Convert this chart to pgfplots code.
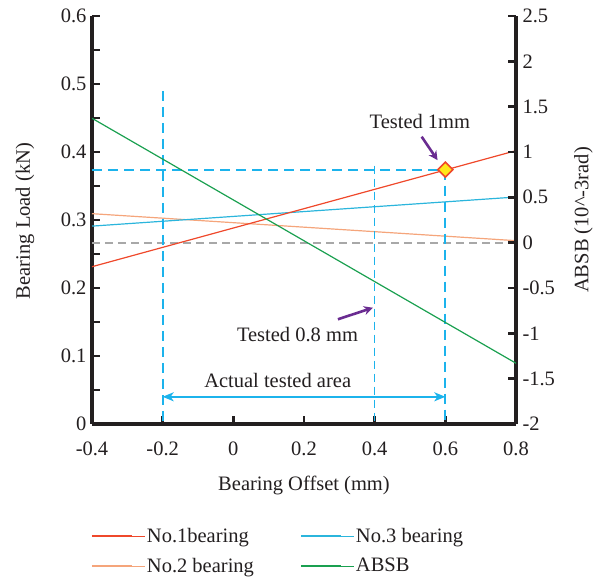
\documentclass[border=0pt]{standalone}
\usepackage{fontspec}
\setmainfont{Liberation Serif}
\usepackage{pgfplots}
\pgfplotsset{compat=1.18}
\usetikzlibrary{arrows.meta}
\definecolor{cA}{RGB}{239,72,43}
\definecolor{cB}{RGB}{245,165,123}
\definecolor{cC}{RGB}{43,181,220}
\definecolor{cD}{RGB}{26,160,80}
\definecolor{dblue}{RGB}{28,179,236}
\definecolor{dgrey}{RGB}{168,168,168}
\definecolor{purp}{RGB}{106,44,145}
\definecolor{axblack}{RGB}{35,31,32}
\definecolor{txt}{RGB}{35,31,32}
\definecolor{yel}{RGB}{255,232,26}
\begin{document}
\begin{tikzpicture}[font=\fontsize{20.5}{24}\selectfont, text=txt]
\path[use as bounding box] (-92pt,-153pt) rectangle (505pt,424pt);
\begin{axis}[at={(0pt,0pt)}, anchor=south west, scale only axis,
  width=424pt, height=408pt,
  xmin=-0.4, xmax=0.8, ymin=0, ymax=0.6,
  axis x line*=bottom, axis y line*=left,
  axis line style={-, line width=3.3pt, draw=axblack},
  xtick align=inside, ytick align=inside,
  major tick length=8pt, minor tick length=8pt,
  major tick style={line width=2.8pt, draw=axblack},
  minor tick style={line width=2.8pt, draw=axblack},
  xtick={-0.4,-0.2,0,0.2,0.4,0.6,0.8},
  xticklabels={-0.4,-0.2,0,0.2,0.4,0.6,0.8},
  ytick={0,0.1,0.2,0.3,0.4,0.5,0.6},
  yticklabels={0,0.1,0.2,0.3,0.4,0.5,0.6},
  minor ytick={0.05,0.15,0.25,0.35,0.45,0.55},
  xticklabel style={yshift=-14pt},
  yticklabel style={xshift=-2pt},
  xlabel={Bearing Offset (mm)},
  ylabel={Bearing Load (kN)},
  xlabel style={at={(axis description cs:0.5,-0.1495)}, anchor=center},
  ylabel style={at={(axis description cs:-0.158,0.4975)}, anchor=center},
  legend columns=2, legend cell align=left,
  legend style={at={(-0.01,-0.245)}, anchor=north west, draw=none, fill=none,
    /tikz/every even column/.append style={column sep=44pt}, row sep=10pt},
  legend image code/.code={\draw[#1, line width=1.6pt] (0pt,0pt) -- (40pt,0pt); \path (0pt,0pt) -- (53pt,0pt);},
  clip=false,
]
\addlegendimage{draw=cA}
\addlegendentry{No.1bearing}
\addlegendimage{draw=cC}
\addlegendentry{No.3 bearing}
\addlegendimage{draw=cB}
\addlegendentry{No.2 bearing}
\addlegendimage{draw=cD}
\addlegendentry{ABSB}
% grey reference line
\addplot[forget plot, dgrey, line width=1.5pt, dash pattern=on 8pt off 5pt] coordinates {(-0.4,0.2662) (0.8,0.2662)};
% data lines
\addplot[forget plot, cB, line width=1.2pt] coordinates {(-0.4,0.3093) (0.8,0.2696)};
\addplot[forget plot, cC, line width=1.2pt] coordinates {(-0.4,0.291) (0.8,0.3338)};
\addplot[forget plot, cA, line width=1.2pt] coordinates {(-0.4,0.2313) (0.8,0.402)};
% dashed guides
\addplot[forget plot, dblue, line width=2pt, dash pattern=on 10pt off 6pt] coordinates {(-0.4,0.374) (0.6,0.374)};
\addplot[forget plot, dblue, line width=2.2pt, dash pattern=on 10pt off 6pt] coordinates {(-0.2,0.49) (-0.2,0)};
\addplot[forget plot, dblue, line width=1.6pt, dash pattern=on 8pt off 5pt] coordinates {(0.4,0.38) (0.4,0)};
\addplot[forget plot, dblue, line width=2.2pt, dash pattern=on 10pt off 6pt] coordinates {(0.6,0.374) (0.6,0)};
% double arrow
\addplot[forget plot, dblue, line width=1.5pt, {Stealth[length=11pt,width=9pt,inset=3pt]}-{Stealth[length=11pt,width=9pt,inset=3pt]}] coordinates {(-0.2,0.04) (0.6,0.04)};
% purple arrows
\addplot[forget plot, purp, line width=2.6pt, -{Stealth[length=9pt,width=9pt]}] coordinates {(0.533,0.4225) (0.578,0.388)};
\addplot[forget plot, purp, line width=2.6pt, -{Stealth[length=9pt,width=9pt]}] coordinates {(0.296,0.154) (0.395,0.171)};
% tested point
\addplot[forget plot, only marks, mark=square*, mark size=5.3pt, mark options={rotate=45, fill=yel, draw=cA, line width=1.6pt}] coordinates {(0.6,0.374)};
\node at (axis cs:0.528,0.4446) {Tested 1mm};
\node at (axis cs:0.1816,0.131) {Tested 0.8 mm};
\node at (axis cs:0.1255,0.0647) {Actual tested area};
\end{axis}
\begin{axis}[at={(0pt,0pt)}, anchor=south west, scale only axis,
  width=424pt, height=408pt,
  xmin=-0.4, xmax=0.8, ymin=-2, ymax=2.5,
  axis x line=none, axis y line*=right,
  axis line style={-, line width=3.3pt, draw=axblack},
  ytick align=inside, major tick length=8pt,
  major tick style={line width=2.8pt, draw=axblack},
  ytick={-2,-1.5,-1,-0.5,0,0.5,1,1.5,2,2.5},
  yticklabels={-2,-1.5,-1,-0.5,0,0.5,1,1.5,2,2.5},
  yticklabel style={xshift=3pt},
  ylabel={ABSB (10\textasciicircum{}-3rad)},
  ylabel style={at={(axis description cs:1.159,0.5)}, anchor=center},
]
\addplot[cD, line width=1.2pt] coordinates {(-0.4,1.372) (0.8,-1.33)};
\end{axis}
\end{tikzpicture}
\end{document}
